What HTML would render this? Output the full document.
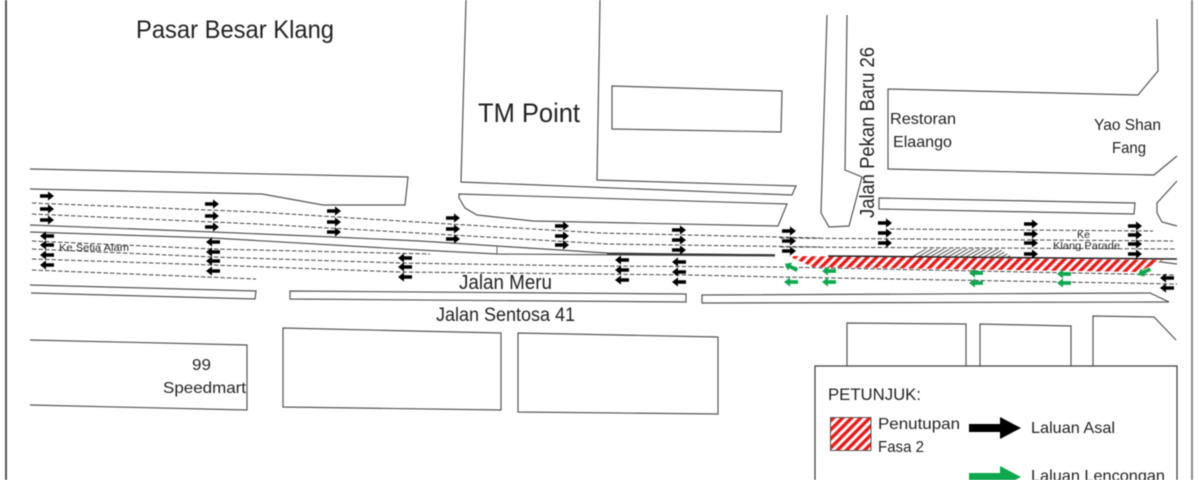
<!DOCTYPE html>
<html>
<head>
<meta charset="utf-8">
<style>
html,body{margin:0;padding:0;background:#fff;width:1200px;height:480px;overflow:hidden}
svg{display:block;filter:blur(.4px)}
text{font-family:"Liberation Sans",sans-serif;fill:#222}
.l{fill:none;stroke:#555;stroke-width:1.2}
.d{fill:none;stroke:#444;stroke-width:1;stroke-dasharray:4.5 2}
</style>
</head>
<body>
<svg width="1200" height="480" viewBox="0 0 1200 480" xmlns="http://www.w3.org/2000/svg">
<defs>
<pattern id="h" width="6.4" height="6.4" patternUnits="userSpaceOnUse" patternTransform="rotate(45)">
<rect width="6.4" height="6.4" fill="#fff"/><rect width="3.4" height="6.4" fill="#f01818"/>
</pattern>
<pattern id="g" width="3" height="3" patternUnits="userSpaceOnUse" patternTransform="rotate(60)">
<rect width="3" height="3" fill="#fff"/><rect width="1" height="3" fill="#555"/>
</pattern>
<g id="r"><polygon points="-7,-1.8 1,-1.8 1,-4.6 7,0 1,4.6 1,1.8 -7,1.8" fill="#000"/></g>
<g id="f"><polygon points="7,-1.8 -1,-1.8 -1,-4.6 -7,0 -1,4.6 -1,1.8 7,1.8" fill="#000"/></g>
<g id="v"><polygon points="7,-1.9 -1,-1.9 -1,-4.6 -7,0 -1,4.6 -1,1.9 7,1.9" fill="#0fa84f"/></g>
</defs>
<rect width="1200" height="480" fill="#fff"/>
<line x1="6" y1="0" x2="6" y2="480" stroke="#555" stroke-width="2"/>
<line x1="1192" y1="0" x2="1192" y2="480" stroke="#666" stroke-width="1.5"/>

<!-- blocks -->
<polyline class="l" points="30,169 408,177 405,205 323,205 262,194 30,189"/>
<polyline class="l" points="466,0 461,182 792,195 796,186 597,180 600,0"/>
<polygon class="l" points="612,86 782,91 781,132 612,129"/>
<polygon class="l" points="459,194 787,204 778,226 533,221 477,215 465,208 459,198"/>
<polyline class="l" points="827,15 821,213 829,227 849,226 862,177 845,170 847,15"/>
<polyline class="l" points="1157,19 1158,71 1138,95 888,89 888,169 1154,175 1177,156"/>
<polygon class="l" points="879,198 1135,203 1134,214 879,209"/>
<polyline class="l" points="1177,181 1157,203 1157,213 1162,222 1177,226"/>
<polyline class="l" points="30,340 247,345 247,410 30,405"/>
<polygon class="l" points="283,328 501,333 501,410 283,407"/>
<polygon class="l" points="518,333 718,337 718,414 518,412"/>
<polyline class="l" points="847,366 847,323 966,324 966,366"/>
<polyline class="l" points="980,366 980,324 1071,326 1071,366"/>
<polyline class="l" points="1093,366 1093,316 1154,317 1176,340"/>

<!-- road edges -->
<polyline class="l" points="30,225 213,232 333,237 420,241 497,246 607,253 775,255"/>
<polyline class="l" points="30,232 213,238 333,245 420,250 497,254 775,256"/>
<line x1="607" y1="254" x2="775" y2="255" stroke="#333" stroke-width="1.6"/>
<line x1="497" y1="246" x2="497" y2="254" stroke="#666" stroke-width="1"/>
<polyline class="l" points="30,285 256,291 255,299 31,293"/>
<polygon class="l" points="290,291 686,294 686,302 290,299"/>
<polygon class="l" points="702,295 1150,293 1169,302 702,303"/>
<polyline class="l" points="1153,261 1177,264"/>

<!-- dashes -->
<polyline class="d" points="32,203 258,212 400,221 600,233 820,238"/>
<polyline class="d" points="32,214 258,224 400,232 607,244 820,247"/>
<polyline class="d" points="32,241 213,249 430,254"/>
<polyline class="d" points="32,249 213,257 400,263 590,266 780,267 1175,275"/>
<polyline class="d" points="32,259 213,265 400,272 690,275 780,277 1177,284"/>
<polyline class="d" points="32,270 256,279"/>
<polyline class="d" points="890,229 1153,231"/>
<polyline class="d" points="780,238 1173,241"/>
<polyline class="d" points="780,247 1175,249"/>

<!-- closure hatch -->
<polygon points="912,256 925,249 1000,249 1012,257" fill="url(#g)"/>
<polygon points="788,256 1163,260 1138,272 813,267" fill="url(#h)"/>
<line x1="828" y1="256" x2="1177" y2="259" stroke="#222" stroke-width="1.5"/>

<!-- black right arrows -->
<use href="#r" x="47" y="196"/><use href="#r" x="47" y="209"/><use href="#r" x="47" y="220"/>
<use href="#r" x="212" y="204"/><use href="#r" x="212" y="216"/><use href="#r" x="212" y="227"/>
<use href="#r" x="334" y="211"/><use href="#r" x="334" y="222"/><use href="#r" x="334" y="232"/>
<use href="#r" x="453" y="218"/><use href="#r" x="453" y="229"/><use href="#r" x="453" y="239"/>
<use href="#r" x="562" y="226"/><use href="#r" x="562" y="236"/><use href="#r" x="562" y="245"/>
<use href="#r" x="679" y="230"/><use href="#r" x="679" y="240"/><use href="#r" x="679" y="250"/>
<use href="#r" x="789" y="231"/><use href="#r" x="789" y="241"/><use href="#r" x="789" y="251"/>
<use href="#r" x="885" y="223"/><use href="#r" x="885" y="233"/><use href="#r" x="885" y="243"/>
<use href="#r" x="1031" y="224"/><use href="#r" x="1031" y="234"/><use href="#r" x="1031" y="243"/><use href="#r" x="1031" y="254"/>
<use href="#r" x="1135" y="226"/><use href="#r" x="1135" y="235"/><use href="#r" x="1135" y="244"/><use href="#r" x="1135" y="254"/>

<!-- black left arrows -->
<use href="#f" x="47" y="236"/><use href="#f" x="47" y="245"/><use href="#f" x="47" y="255"/><use href="#f" x="47" y="265"/>
<use href="#f" x="213" y="242"/><use href="#f" x="213" y="252"/><use href="#f" x="213" y="261"/><use href="#f" x="213" y="271"/>
<use href="#f" x="405" y="258"/><use href="#f" x="405" y="267"/><use href="#f" x="405" y="277"/>
<use href="#f" x="622" y="260"/><use href="#f" x="622" y="270"/><use href="#f" x="622" y="280"/>
<use href="#f" x="679" y="262"/><use href="#f" x="679" y="272"/><use href="#f" x="679" y="282"/>
<use href="#f" x="1167" y="278"/><use href="#f" x="1167" y="288"/>

<!-- green arrows -->
<use href="#v" transform="translate(791,267) rotate(27)"/>
<use href="#v" x="791" y="282"/>
<use href="#v" x="829" y="271"/><use href="#v" x="829" y="282"/>
<use href="#v" x="976" y="273"/><use href="#v" x="976" y="283"/>
<use href="#v" x="1064" y="274"/><use href="#v" x="1064" y="283"/>
<use href="#v" transform="translate(1144,272) rotate(-25)"/>

<!-- labels -->
<text x="136" y="38" font-size="25" textLength="198" lengthAdjust="spacingAndGlyphs">Pasar Besar Klang</text>
<text x="478" y="122" font-size="27" textLength="102" lengthAdjust="spacingAndGlyphs">TM Point</text>
<text transform="translate(874,218) rotate(-90)" font-size="20" textLength="171" lengthAdjust="spacingAndGlyphs">Jalan Pekan Baru 26</text>
<text x="890" y="124" font-size="16" textLength="66" lengthAdjust="spacingAndGlyphs">Restoran</text>
<text x="893" y="147" font-size="16" textLength="59" lengthAdjust="spacingAndGlyphs">Elaango</text>
<text x="1094" y="130" font-size="16" textLength="67" lengthAdjust="spacingAndGlyphs">Yao Shan</text>
<text x="1112" y="153" font-size="16" textLength="34" lengthAdjust="spacingAndGlyphs">Fang</text>
<text x="459" y="289" font-size="20" textLength="93" lengthAdjust="spacingAndGlyphs">Jalan Meru</text>
<text x="436" y="321" font-size="19" textLength="139" lengthAdjust="spacingAndGlyphs">Jalan Sentosa 41</text>
<text x="192" y="370" font-size="16" textLength="19" lengthAdjust="spacingAndGlyphs">99</text>
<text x="163" y="393" font-size="16" textLength="83" lengthAdjust="spacingAndGlyphs">Speedmart</text>
<text x="59" y="251" font-size="10.5" textLength="70" lengthAdjust="spacingAndGlyphs">Ke Setia Alam</text>
<text x="1077" y="238" font-size="10.5" textLength="13" lengthAdjust="spacingAndGlyphs">Ke</text>
<text x="1053" y="249" font-size="10.5" textLength="67" lengthAdjust="spacingAndGlyphs">Klang Parade</text>

<!-- legend -->
<rect x="815" y="366" width="362" height="130" fill="#fff" stroke="#444" stroke-width="1.3"/>
<text x="828" y="400" font-size="17" textLength="93" lengthAdjust="spacingAndGlyphs">PETUNJUK:</text>
<rect x="830.5" y="417.5" width="40.5" height="33" fill="url(#h)" stroke="#555" stroke-width="1"/>
<text x="878" y="429" font-size="16" textLength="82" lengthAdjust="spacingAndGlyphs">Penutupan</text>
<text x="878" y="452" font-size="16" textLength="46" lengthAdjust="spacingAndGlyphs">Fasa 2</text>
<polygon points="969,424 1000,424 1000,417 1021,428 1000,439 1000,432 969,432" fill="#000"/>
<text x="1031" y="433" font-size="16" textLength="84" lengthAdjust="spacingAndGlyphs">Laluan Asal</text>
<polygon points="969,473 1000,473 1000,466 1021,477 1000,488 1000,481 969,481" fill="#0fa84f"/>
<text x="1031" y="481" font-size="16" textLength="134" lengthAdjust="spacingAndGlyphs">Laluan Lencongan</text>
</svg>
</body>
</html>
